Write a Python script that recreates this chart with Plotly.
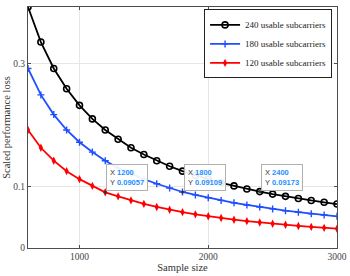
import plotly.graph_objects as go

sample_size = [600, 700, 800, 900, 1000, 1100, 1200, 1300, 1400, 1500, 1600, 1700, 1800,
               1900, 2000, 2100, 2200, 2300, 2400, 2500, 2600, 2700, 2800, 2900, 3000]
loss_240 = [0.392, 0.335, 0.292, 0.259, 0.232, 0.210, 0.192, 0.177, 0.163, 0.152, 0.142, 0.133, 0.125,
            0.118, 0.112, 0.106, 0.101, 0.096, 0.09173, 0.0877, 0.084, 0.0805, 0.0773, 0.0743, 0.0715]
loss_180 = [0.292, 0.249, 0.217, 0.192, 0.172, 0.156, 0.142, 0.130, 0.121, 0.112, 0.1045, 0.0977, 0.09109,
            0.0864, 0.0817, 0.0774, 0.0735, 0.070, 0.0666, 0.0636, 0.0607, 0.0582, 0.0558, 0.0536, 0.0515]
loss_120 = [0.192, 0.163, 0.142, 0.125, 0.112, 0.101, 0.09057, 0.084, 0.0774, 0.0717, 0.0667, 0.0622, 0.0583,
            0.0547, 0.0516, 0.0487, 0.046, 0.0437, 0.0415, 0.0395, 0.0377, 0.0359, 0.0343, 0.0328, 0.0314]
names = ["240 usable subcarriers", "180 usable subcarriers", "120 usable subcarriers"]
x_ticks = [1000, 2000, 3000]
y_ticks = [0, 0.1, 0.3]
tips = [(1200, loss_120[6]), (1800, loss_180[12]), (2400, loss_240[18])]

SERIF = "Times New Roman, Liberation Serif, serif"

fig = go.Figure()
fig.add_trace(go.Scatter(x=sample_size, y=loss_240, name=names[0], mode="lines+markers",
                         line=dict(color="black", width=1.8),
                         marker=dict(symbol="circle-open", size=6, color="black", line=dict(width=1.6))))
fig.add_trace(go.Scatter(x=sample_size, y=loss_180, name=names[1], mode="lines+markers",
                         line=dict(color="#1f4fff", width=1.8),
                         marker=dict(symbol="cross-thin-open", size=5, color="#1f4fff", line=dict(width=1.4))))
fig.add_trace(go.Scatter(x=sample_size, y=loss_120, name=names[2], mode="lines+markers",
                         line=dict(color="#ff0000", width=1.8),
                         marker=dict(symbol="diamond-tall", size=6, color="#ff0000")))

# datatip dots
fig.add_trace(go.Scatter(x=[t[0] for t in tips], y=[t[1] for t in tips], mode="markers",
                         marker=dict(size=3, color="#333333"), showlegend=False, hoverinfo="skip"))

for xv, yv in tips:
    fig.add_annotation(x=xv, y=yv, xref="x", yref="y", xanchor="left", yanchor="bottom",
                       showarrow=False, align="left",
                       text=f"X <span style='color:#1e90ff'><b>{xv}</b></span><br>Y <span style='color:#1e90ff'><b>{yv:.5f}</b></span>",
                       font=dict(family="Liberation Sans, Arial", size=7.5, color="#333333"),
                       bgcolor="rgba(255,255,255,0.92)", bordercolor="#b0b0b0", borderwidth=1, borderpad=3,
                       xshift=1, yshift=1)

axis_common = dict(showgrid=True, gridcolor="#e6e6e6", gridwidth=1, zeroline=False,
                   showline=True, linecolor="#4d4d4d", linewidth=1, mirror="ticks",
                   ticks="inside", ticklen=3, tickcolor="#4d4d4d", automargin=False,
                   tickfont=dict(family=SERIF, size=9.5, color="#444444"))

fig.update_xaxes(range=[600, 3000], tickvals=x_ticks, ticktext=[str(v) for v in x_ticks],
                 title=dict(text="Sample size", font=dict(family=SERIF, size=10.5, color="#333333"),
                            standoff=0),
                 **axis_common)
fig.update_yaxes(range=[0, 0.392], tickvals=y_ticks, ticktext=["0", "0.1", "0.3"],
                 title=dict(text="Scaled performance loss", font=dict(family=SERIF, size=10.5, color="#333333"),
                            standoff=0),
                 **axis_common)

fig.update_layout(width=350, height=276, margin=dict(l=28, r=13, t=7, b=28),
                  plot_bgcolor="white", paper_bgcolor="white",
                  legend=dict(x=0.984, y=0.99, xanchor="right", yanchor="top",
                              bgcolor="white", bordercolor="#222222", borderwidth=1,
                              font=dict(family=SERIF, size=9, color="#222222"),
                              tracegroupgap=0, itemwidth=30))

fig.write_html("out.html", config={"displayModeBar": False},
               post_script="document.body.style.margin='0';document.body.style.overflow='hidden';")
